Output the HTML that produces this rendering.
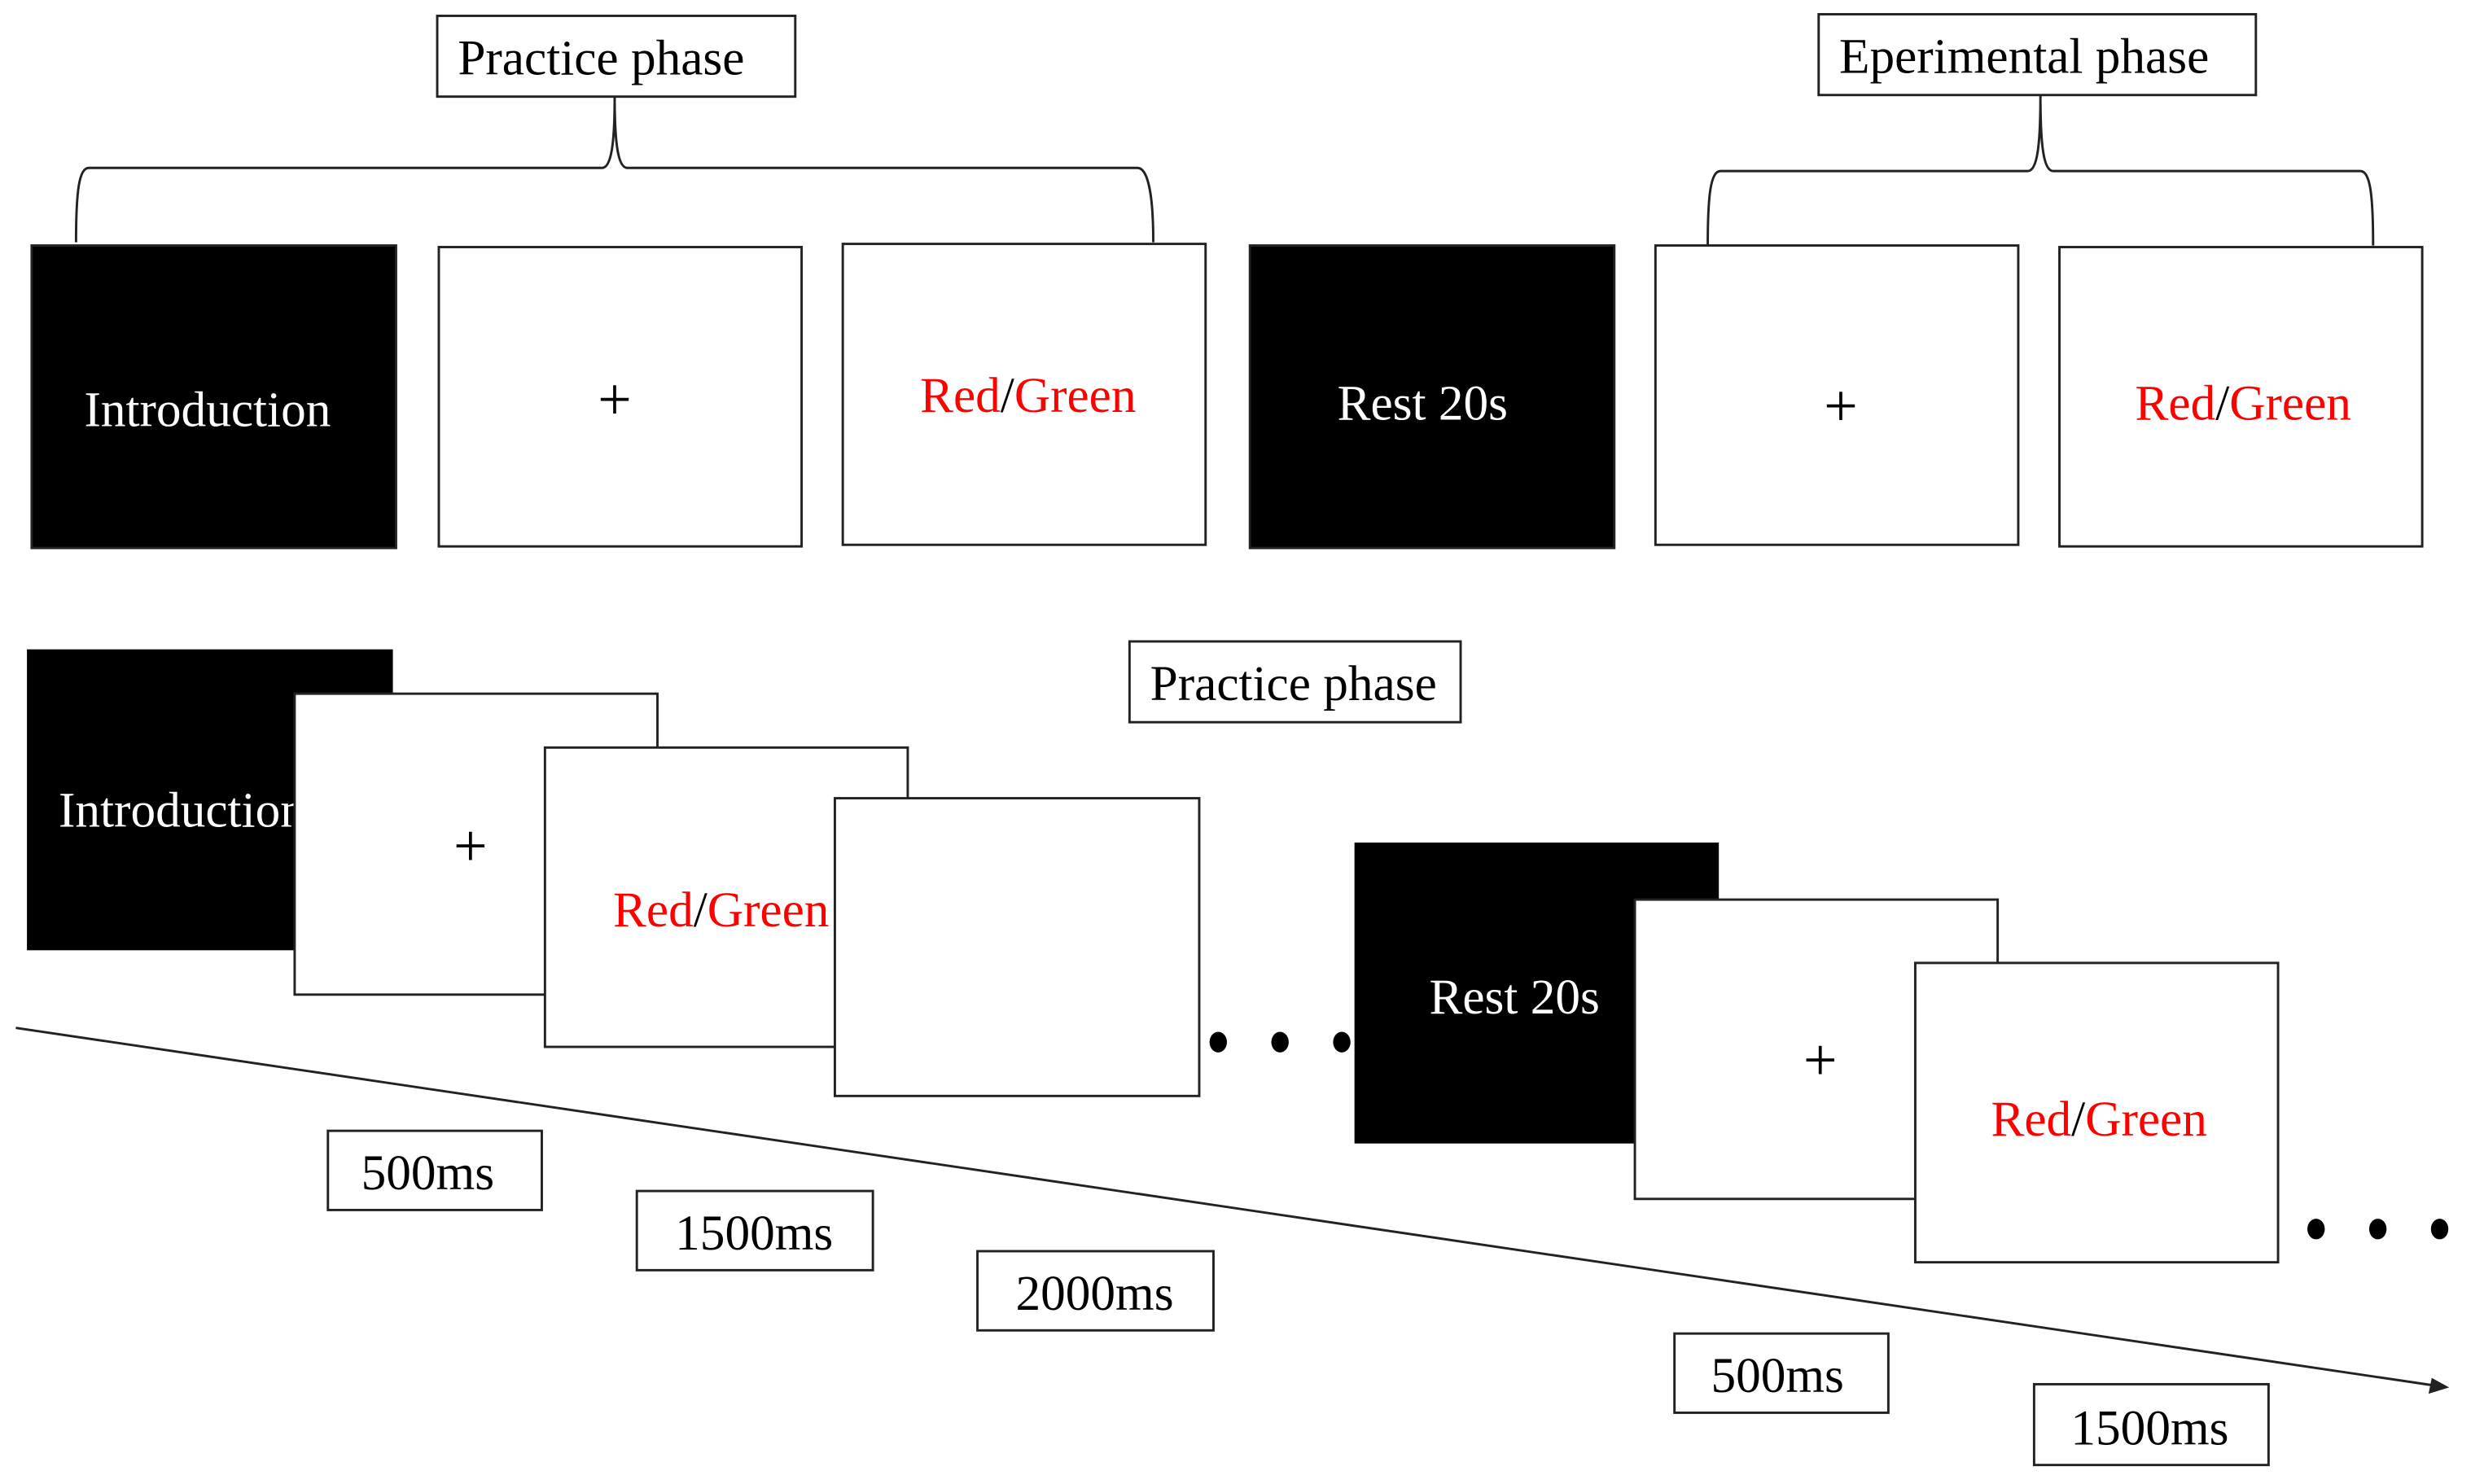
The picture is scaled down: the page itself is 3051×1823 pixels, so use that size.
<!DOCTYPE html>
<html><head><meta charset="utf-8"><style>html,body{margin:0;padding:0;background:#fff}svg{display:block}</style></head>
<body>
<svg width="3051" height="1823" viewBox="0 0 1568 937" preserveAspectRatio="none" xmlns="http://www.w3.org/2000/svg" font-family="'Liberation Serif', serif" font-size="31.5">
<g fill="none" stroke="#222" stroke-width="1.5">
<rect x="276" y="10" width="226" height="51" fill="#fff"/>
<path d="M48,153 C48,120 50,106 56,106 L380,106 C386,106 388,90 388,61 C388,90 390,106 396,106 L718,106 C724,106 728,120 728,153"/>
<rect x="1148" y="9" width="276" height="51" fill="#fff"/>
<path d="M1078,155 C1078,122 1080,108 1086,108 L1280,108 C1286,108 1288,92 1288,60 C1288,92 1290,108 1296,108 L1490,108 C1496,108 1498,122 1498,155"/>
</g>
<g stroke="#222" stroke-width="1.5">
<rect x="20" y="155" width="230" height="191" fill="#000"/>
<rect x="277" y="156" width="229" height="189" fill="#fff"/>
<rect x="532" y="154" width="229" height="190" fill="#fff"/>
<rect x="789" y="155" width="230" height="191" fill="#000"/>
<rect x="1045" y="155" width="229" height="189" fill="#fff"/>
<rect x="1300" y="156" width="229" height="189" fill="#fff"/>
</g>
<text x="289" y="47" fill="#000">Practice phase</text>
<text x="1161" y="46" fill="#000">Eperimental phase</text>
<g text-anchor="middle">
<text x="131" y="269" fill="#fff">Introduction</text>
<text x="388" y="265" fill="#000" font-size="38">+</text>
<text x="649" y="260"><tspan fill="#f00">Red</tspan><tspan fill="#000">/</tspan><tspan fill="#f00">Green</tspan></text>
<text x="898" y="265" fill="#fff">Rest 20s</text>
<text x="1162" y="269" fill="#000" font-size="38">+</text>
<text x="1416" y="265"><tspan fill="#f00">Red</tspan><tspan fill="#000">/</tspan><tspan fill="#f00">Green</tspan></text>
</g>
<rect x="713" y="405" width="209" height="51" fill="#fff" stroke="#222" stroke-width="1.5"/>
<text x="726" y="442" fill="#000">Practice phase</text>
<line x1="10" y1="649" x2="1538" y2="875" stroke="#222" stroke-width="1.5"/>
<polygon points="1546,876 1533,880 1535,870" fill="#222"/>
<rect x="17" y="410" width="231" height="190" fill="#000"/>
<text x="37" y="522" fill="#fff">Introduction</text>
<rect x="186" y="438" width="229" height="190" fill="#fff" stroke="#222" stroke-width="1.5"/>
<text x="297" y="547" fill="#000" text-anchor="middle" font-size="38">+</text>
<rect x="344" y="472" width="229" height="189" fill="#fff" stroke="#222" stroke-width="1.5"/>
<text x="387" y="585"><tspan fill="#f00">Red</tspan><tspan fill="#000">/</tspan><tspan fill="#f00">Green</tspan></text>
<rect x="527" y="504" width="230" height="188" fill="#fff" stroke="#222" stroke-width="1.5"/>
<g fill="#000"><ellipse cx="769" cy="658" rx="5.5" ry="6.5"/><ellipse cx="808" cy="658" rx="5.5" ry="6.5"/><ellipse cx="847" cy="658" rx="5.5" ry="6.5"/>
<ellipse cx="1462" cy="776" rx="5.5" ry="6.5"/><ellipse cx="1501" cy="776" rx="5.5" ry="6.5"/><ellipse cx="1540" cy="776" rx="5.5" ry="6.5"/></g>
<rect x="855" y="532" width="230" height="190" fill="#000"/>
<text x="956" y="640" fill="#fff" text-anchor="middle">Rest 20s</text>
<rect x="1032" y="568" width="229" height="189" fill="#fff" stroke="#222" stroke-width="1.5"/>
<text x="1149" y="682" fill="#000" text-anchor="middle" font-size="38">+</text>
<rect x="1209" y="608" width="229" height="189" fill="#fff" stroke="#222" stroke-width="1.5"/>
<text x="1325" y="717" text-anchor="middle"><tspan fill="#f00">Red</tspan><tspan fill="#000">/</tspan><tspan fill="#f00">Green</tspan></text>
<g fill="#fff" stroke="#222" stroke-width="1.5">
<rect x="207" y="714" width="135" height="50"/>
<rect x="402" y="752" width="149" height="50"/>
<rect x="617" y="790" width="149" height="50"/>
<rect x="1057" y="842" width="135" height="50"/>
<rect x="1284" y="874" width="148" height="51"/>
</g>
<g fill="#000" text-anchor="middle">
<text x="270" y="751">500ms</text>
<text x="476" y="789">1500ms</text>
<text x="691" y="827">2000ms</text>
<text x="1122" y="879">500ms</text>
<text x="1357" y="912">1500ms</text>
</g>
</svg>
</body></html>
